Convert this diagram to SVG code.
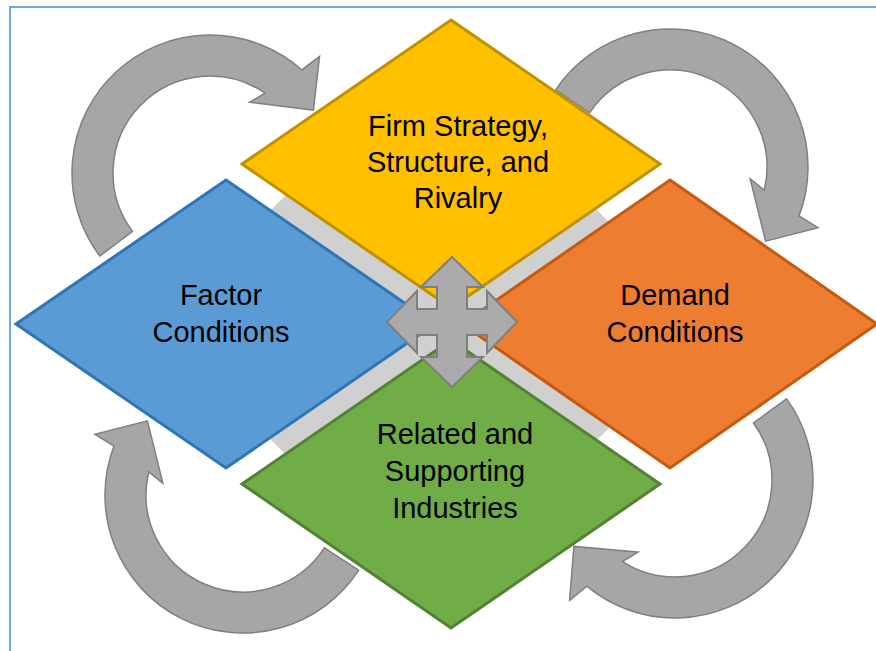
<svg xmlns="http://www.w3.org/2000/svg" width="876" height="651" viewBox="0 0 876 651">
  <style>
    .lbl { font-family: "Liberation Sans", Arial, sans-serif; font-size: 29px; fill: #000; text-anchor: middle; }
    .carrow { fill: #A6A6A6; stroke: #7F7F7F; stroke-width: 1.5; stroke-linejoin: miter; }
    .dia { stroke-width: 3; stroke-linejoin: miter; }
  </style>
  <rect x="0" y="0" width="876" height="651" fill="#FFFFFF"/>
  <rect x="10" y="7" width="880" height="660" fill="none" stroke="#6FA8DC" stroke-width="2"/>

  <g id="connectors">
    <path class="carrow" d="M 99.79 256.05 A 138 138 0 0 1 301.80 69.96 L 319.53 56.36 L 313.39 110.14 L 249.52 102.29 L 265.22 93.25 A 97 97 0 0 0 132.53 231.38 Z"/>
    <path class="carrow" d="M 555.59 89.83 A 138 138 0 0 1 799.01 216.01 L 818.03 227.71 L 765.61 241.16 L 750.15 178.69 L 764.20 190.14 A 97 97 0 0 0 589.58 112.76 Z"/>
    <path class="carrow" d="M 786.64 398.89 A 138 138 0 0 1 586.85 586.18 L 569.61 600.39 L 573.87 546.43 L 637.98 552.04 L 622.60 561.63 A 97 97 0 0 0 753.47 422.98 Z"/>
    <path class="carrow" d="M 358.74 570.16 A 138 138 0 0 1 113.99 445.99 L 94.97 434.29 L 147.39 420.84 L 162.85 483.31 L 148.80 471.86 A 97 97 0 0 0 324.35 547.83 Z"/>
  </g>

  <polygon id="backdrop" points="434,47 712,325 434,603 156,325" fill="#D0D0D0"/>

  <g id="node-firm">
    <polygon class="dia" points="451,20 660,164 451,308 242,164" fill="#FFC000" stroke="#BF9000"/>
    <text class="lbl" x="458" y="136">Firm Strategy,</text>
    <text class="lbl" x="458" y="172">Structure, and</text>
    <text class="lbl" x="458" y="208">Rivalry</text>
  </g>
  <g id="node-factor">
    <polygon class="dia" points="226,180 435,324 226,468 16,324" fill="#5B9BD5" stroke="#2E75B6"/>
    <text class="lbl" x="221" y="305">Factor</text>
    <text class="lbl" x="221" y="342">Conditions</text>
  </g>
  <g id="node-demand">
    <polygon class="dia" points="670,180 877,324 670,468 462,324" fill="#ED7D31" stroke="#C55A11"/>
    <text class="lbl" x="675" y="305">Demand</text>
    <text class="lbl" x="675" y="342">Conditions</text>
  </g>
  <g id="node-related">
    <polygon class="dia" points="451,340 660,484 451,628 242,484" fill="#70AD47" stroke="#538135"/>
    <text class="lbl" x="455" y="444">Related and</text>
    <text class="lbl" x="455" y="481">Supporting</text>
    <text class="lbl" x="455" y="518">Industries</text>
  </g>

  <g id="center-arrow">
    <polygon transform="translate(452,322)" fill="#ABABAB" stroke="#7F7F7F" stroke-width="2" stroke-linejoin="miter"
      points="0,-65 31,-35 15,-35 15,-13 35,-13 35,-31 65,0 35,31 35,13 15,13 15,35 31,35 0,65 -31,35 -15,35 -15,13 -35,13 -35,31 -65,0 -35,-31 -35,-13 -15,-13 -15,-35 -31,-35"/>
  </g>
</svg>
